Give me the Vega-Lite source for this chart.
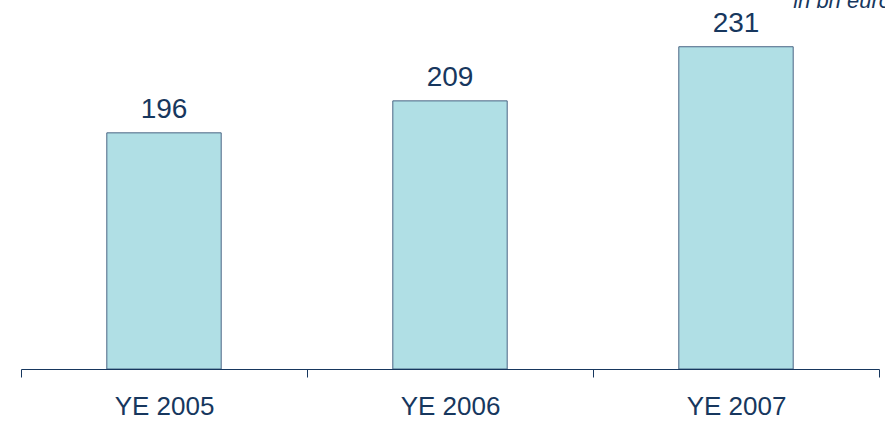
{
  "$schema": "https://vega.github.io/schema/vega-lite/v6.json",
  "autosize": "none",
  "width": 858,
  "height": 369,
  "padding": {"left": 21, "top": 0, "right": 6, "bottom": 52},
  "background": "white",
  "config": {"view": {"stroke": null}, "font": "Liberation Sans"},
  "title": {
    "text": "in bn euro",
    "anchor": "end",
    "frame": "group",
    "orient": "top",
    "offset": 0,
    "baseline": "alphabetic",
    "dy": 30,
    "dx": 12,
    "fontSize": 22,
    "fontStyle": "italic",
    "fontWeight": "normal",
    "font": "Liberation Sans",
    "color": "#17375E"
  },
  "data": {
    "values": [
      {"period": "YE 2005", "value": 196, "base": 100},
      {"period": "YE 2006", "value": 209, "base": 100},
      {"period": "YE 2007", "value": 231, "base": 100}
    ]
  },
  "encoding": {
    "x": {
      "field": "period",
      "type": "nominal",
      "sort": null,
      "scale": {"paddingInner": 0, "paddingOuter": 0},
      "axis": {
        "title": null,
        "labelAngle": 0,
        "labelFontSize": 26,
        "labelFont": "Liberation Sans",
        "labelColor": "#17375E",
        "labelPadding": 16,
        "domainColor": "#17375E",
        "tickColor": "#17375E",
        "tickSize": 8,
        "tickBand": "extent",
        "zindex": 1
      }
    },
    "y": {
      "field": "value",
      "type": "quantitative",
      "scale": {"domain": [100, 250], "zero": false},
      "axis": null
    }
  },
  "layer": [
    {
      "mark": {"type": "bar", "fill": "#B0DFE5", "stroke": "#4A6584", "strokeWidth": 1, "width": {"band": 0.4}},
      "encoding": {"y2": {"field": "base"}}
    },
    {
      "mark": {"type": "text", "baseline": "alphabetic", "dy": -15, "fontSize": 28, "font": "Liberation Sans", "color": "#17375E"},
      "encoding": {"text": {"field": "value", "type": "quantitative"}}
    }
  ]
}
